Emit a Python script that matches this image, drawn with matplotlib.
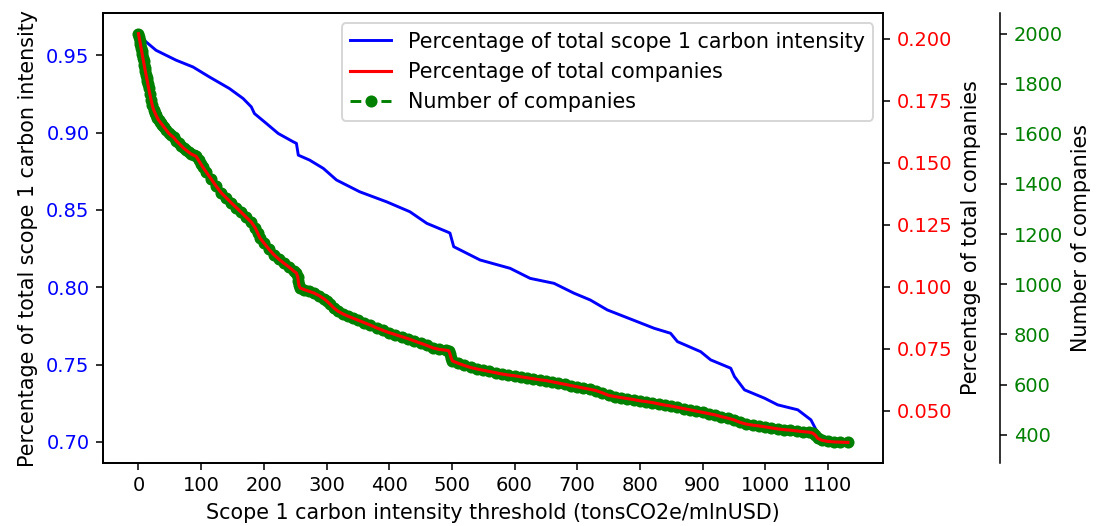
import matplotlib
matplotlib.use("Agg")
import matplotlib.pyplot as plt

# share of total scope 1 carbon intensity kept above each threshold
blue_x = [0, 9, 28, 60, 87, 113, 145, 167, 180, 185, 204, 223, 247, 252, 255, 273,
          295, 316, 353, 396, 433, 460, 492, 497, 503, 545, 593, 625, 663, 695, 721,
          748, 823, 849, 860, 897, 913, 945, 951, 967, 999, 1020, 1052, 1073, 1084,
          1088, 1110, 1132]
blue_share = [0.964, 0.9597, 0.9532, 0.9468, 0.9424, 0.936, 0.9285, 0.922, 0.9166,
              0.9123, 0.9059, 0.8994, 0.894, 0.893, 0.8854, 0.8822, 0.8768, 0.8693,
              0.8617, 0.8552, 0.8488, 0.8413, 0.8359, 0.835, 0.8262, 0.8176, 0.8122,
              0.8057, 0.8025, 0.7961, 0.7917, 0.7853, 0.7734, 0.7702, 0.7648, 0.7583,
              0.753, 0.7476, 0.7422, 0.7336, 0.7282, 0.7239, 0.7207, 0.7142, 0.7056,
              0.700, 0.6998, 0.6996]

# number of companies above each threshold
green_x = [0, 1, 2, 3, 4, 5, 6, 7, 8, 9, 10, 11, 12, 13, 14, 15, 16,
           18, 20, 22, 24, 26, 28, 30, 32, 34, 36, 38, 40,
           44, 48, 52, 56, 60, 64, 68, 72, 76, 80, 84, 88, 92, 96, 100, 103,
           108, 116, 124, 132, 140, 148, 156, 164, 172, 180, 186, 190, 194, 200,
           208, 216, 224, 232, 240, 248, 252, 254, 255, 256, 258, 264, 272, 280,
           288, 296, 300, 306, 312, 318, 326, 334, 342, 350, 360, 370, 380, 390,
           400, 410, 420, 430, 440, 450, 460, 470, 480, 490, 495, 497, 499, 501,
           510, 520, 530, 540, 550, 560, 570, 580, 590, 600, 610, 620, 630, 640,
           650, 660, 670, 680, 690, 700, 710, 720, 730, 740, 750, 760, 770, 780,
           790, 800, 810, 820, 830, 840, 850, 860, 870, 880, 890, 900, 910, 920,
           930, 940, 950, 960, 970, 980, 990, 1000, 1010, 1020, 1030, 1040, 1050,
           1060, 1070, 1076, 1080, 1084, 1090, 1100, 1110, 1120, 1132]
green_count = [2000, 1986, 1972, 1958, 1944, 1930, 1917, 1903, 1889, 1876, 1862, 1849,
               1836, 1823, 1810, 1797, 1783,
               1760, 1737, 1714, 1697, 1685, 1674, 1664, 1655, 1649, 1642, 1636, 1629,
               1616, 1603, 1594, 1586, 1573, 1563, 1553, 1543, 1535, 1527, 1520, 1515,
               1510, 1494, 1478, 1466,
               1448, 1420, 1391, 1365, 1345, 1325, 1306, 1287, 1267, 1248, 1226, 1205,
               1184, 1165, 1140, 1118, 1100, 1084, 1069, 1052, 1045, 1030, 1012, 996,
               985, 979, 972, 965, 955, 942, 934, 920, 905, 893, 882, 873, 865, 857,
               847, 837, 826, 816, 807, 799, 791, 783, 774, 765, 756, 746, 740, 737,
               735, 722, 705, 694, 685, 676, 668, 662, 657, 652, 647, 642, 638, 635,
               631, 627, 623, 619, 616, 611, 606, 601, 596, 591, 586, 581, 576, 567,
               557, 552, 548, 544, 540, 535, 532, 528, 523, 518, 514, 509, 504, 499,
               494, 489, 484, 479, 472, 466, 459, 449, 442, 438, 435, 431, 427, 423,
               420, 418, 415, 412, 410, 406, 398, 385, 378, 373, 371, 370, 369]
total_companies = 9900
red_share = [n / total_companies for n in green_count]

fig = plt.figure(figsize=(1096 / 140, 526 / 140), dpi=140)
ax = fig.add_subplot(111)
fig.subplots_adjust(left=0.094, right=0.806, bottom=0.12, top=0.975)

ax_n = ax.twinx()
ax_n.spines["right"].set_position(("axes", 1.15))
ax_p = ax.twinx()

l1, = ax.plot(blue_x, blue_share, color="blue", lw=1.5,
              label="Percentage of total scope 1 carbon intensity")
l3, = ax_n.plot(green_x, green_count, "--o", color="green", ms=5.2,
                label="Number of companies")
l2, = ax_p.plot(green_x, red_share, color="red", lw=1.6,
                label="Percentage of total companies")

lab = 10.6
ax.set_xlabel("Scope 1 carbon intensity threshold (tonsCO2e/mlnUSD)", fontsize=lab)
ax.set_ylabel("Percentage of total scope 1 carbon intensity", fontsize=lab)
ax_p.set_ylabel("Percentage of total companies", fontsize=lab)
ax_n.set_ylabel("Number of companies", fontsize=lab)
ax.set_xticks(range(0, 1101, 100))

ax.tick_params(axis="y", labelcolor="blue")
ax_p.tick_params(axis="y", labelcolor="red")
ax_n.tick_params(axis="y", labelcolor="green")

ax.legend(handles=[l1, l2, l3], loc="upper right", fontsize=lab)

fig.savefig("out.png", dpi=140)
